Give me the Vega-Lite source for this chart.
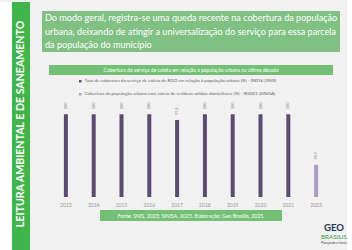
{
  "$schema": "https://vega.github.io/schema/vega-lite/v6.json",
  "background": "#f1f1f1",
  "padding": 0,
  "config": {
    "view": {"stroke": null},
    "font": "Lato",
    "locale": {"number": {"decimal": ",", "thousands": ".", "grouping": [3], "currency": ["R$", ""]}}
  },
  "spacing": 0,
  "bounds": "flush",
  "resolve": {"scale": {"color": "independent", "y": "independent", "x": "independent"}, "legend": {"color": "independent"}},
  "hconcat": [
    {
      "width": 12, "height": 250,
      "view": {"fill": "#ffffff", "stroke": null},
      "data": {"values": [{}]},
      "mark": {"type": "text"},
      "encoding": {"text": {"value": ""}}
    },
    {
      "width": 18, "height": 250,
      "view": {"fill": "#3fb54c", "stroke": null},
      "data": {"values": [{"t": "LEITURA AMBIENTAL E DE SANEAMENTO"}]},
      "mark": {"type": "text", "angle": 270, "color": "#ffffff", "fontSize": 10.6, "fontWeight": "bold", "baseline": "middle", "dx": 3},
      "encoding": {"text": {"field": "t"}}
    },
    {
      "width": 12, "height": 250,
      "data": {"values": [{}]},
      "mark": {"type": "text"},
      "encoding": {"text": {"value": ""}}
    },
    {
      "spacing": 0,
      "bounds": "flush",
      "center": true,
      "resolve": {"scale": {"color": "independent", "y": "independent", "x": "independent"}, "legend": {"color": "independent"}},
      "vconcat": [
        {
          "width": 1, "height": 9,
          "data": {"values": [{}]},
          "mark": {"type": "text"},
          "encoding": {"text": {"value": ""}}
        },
        {
          "width": 298, "height": 41,
          "view": {"fill": "#80c183", "stroke": null},
          "data": {"values": [
            {"linha": 1, "t": "Do modo geral, registra-se uma queda recente na cobertura da população"},
            {"linha": 2, "t": "urbana, deixando de atingir a universalização do serviço para essa parcela"},
            {"linha": 3, "t": "da população do município"}
          ]},
          "mark": {"type": "text", "align": "left", "baseline": "middle", "color": "#ffffff", "fontSize": 9.1},
          "encoding": {
            "x": {"value": 3},
            "y": {"field": "linha", "type": "ordinal", "axis": null},
            "text": {"field": "t"}
          }
        },
        {
          "width": 1, "height": 13,
          "data": {"values": [{}]},
          "mark": {"type": "text"},
          "encoding": {"text": {"value": ""}}
        },
        {
          "width": 284, "height": 10,
          "view": {"fill": "#72bf75", "stroke": null},
          "data": {"values": [{"t": "Cobertura do serviço de coleta em relação à população urbana na última década"}]},
          "mark": {"type": "text", "color": "#ffffff", "fontSize": 5, "baseline": "middle"},
          "encoding": {"text": {"field": "t"}}
        },
        {
          "width": 1, "height": 31,
          "data": {"values": [{}]},
          "mark": {"type": "text"},
          "encoding": {"text": {"value": ""}}
        },
        {
          "width": 278, "height": 91,
          "data": {"values": [
            {"ano": "2013", "serie": "Taxa de cobertura do serviço de coleta de RDO em relação à população urbana (%) - IN016 (SNIS)", "valor": 100},
            {"ano": "2014", "serie": "Taxa de cobertura do serviço de coleta de RDO em relação à população urbana (%) - IN016 (SNIS)", "valor": 100},
            {"ano": "2015", "serie": "Taxa de cobertura do serviço de coleta de RDO em relação à população urbana (%) - IN016 (SNIS)", "valor": 100},
            {"ano": "2016", "serie": "Taxa de cobertura do serviço de coleta de RDO em relação à população urbana (%) - IN016 (SNIS)", "valor": 100},
            {"ano": "2017", "serie": "Taxa de cobertura do serviço de coleta de RDO em relação à população urbana (%) - IN016 (SNIS)", "valor": 93.1},
            {"ano": "2018", "serie": "Taxa de cobertura do serviço de coleta de RDO em relação à população urbana (%) - IN016 (SNIS)", "valor": 100},
            {"ano": "2019", "serie": "Taxa de cobertura do serviço de coleta de RDO em relação à população urbana (%) - IN016 (SNIS)", "valor": 100},
            {"ano": "2020", "serie": "Taxa de cobertura do serviço de coleta de RDO em relação à população urbana (%) - IN016 (SNIS)", "valor": 100},
            {"ano": "2021", "serie": "Taxa de cobertura do serviço de coleta de RDO em relação à população urbana (%) - IN016 (SNIS)", "valor": 100},
            {"ano": "2022", "serie": "Taxa de cobertura do serviço de coleta de RDO em relação à população urbana (%) - IN016 (SNIS)", "valor": null},
            {"ano": "2023", "serie": "Cobertura da população urbana com coleta de resíduos sólidos domiciliares (%) - IRS001 (SINISA)", "valor": 38.9}
          ]},
          "encoding": {
            "x": {
              "field": "ano", "type": "ordinal",
              "scale": {"paddingInner": 0, "paddingOuter": 0},
              "axis": {"title": null, "labelAngle": 0, "domain": false, "ticks": false, "labelFontSize": 5, "labelColor": "#9a9a9a", "labelPadding": 5}
            },
            "y": {"field": "valor", "type": "quantitative", "scale": {"domain": [0, 110]}, "axis": null}
          },
          "layer": [
            {
              "mark": {"type": "bar", "width": 4},
              "encoding": {
                "color": {
                  "field": "serie", "type": "nominal",
                  "scale": {
                    "domain": [
                      "Taxa de cobertura do serviço de coleta de RDO em relação à população urbana (%) - IN016 (SNIS)",
                      "Cobertura da população urbana com coleta de resíduos sólidos domiciliares (%) - IRS001 (SINISA)"
                    ],
                    "range": ["#5b4b6f", "#a99dc6"]
                  },
                  "legend": {
                    "orient": "none", "legendX": 26, "legendY": -27, "direction": "vertical",
                    "title": null, "labelFontSize": 4.5, "labelColor": "#666666", "labelLimit": 0,
                    "symbolType": "square", "symbolSize": 6, "rowPadding": 8, "labelOffset": 2
                  }
                }
              }
            },
            {
              "mark": {"type": "text", "angle": 270, "align": "left", "baseline": "middle", "dx": 5, "fontSize": 4, "color": "#8a8a8a"},
              "encoding": {"text": {"field": "valor", "type": "quantitative", "format": ".2~f"}}
            }
          ]
        },
        {
          "width": 1, "height": 13,
          "data": {"values": [{}]},
          "mark": {"type": "text"},
          "encoding": {"text": {"value": ""}}
        },
        {
          "width": 182, "height": 11,
          "view": {"fill": "#72bf75", "stroke": null},
          "layer": [
            {
              "data": {"values": [{"t": "Fonte: SNIS, 2023; SINISA, 2025. Elaboração: Geo Brasilis, 2025."}]},
              "mark": {"type": "text", "color": "#ffffff", "fontSize": 5.2, "baseline": "middle"},
              "encoding": {"text": {"field": "t"}}
            },
            {
              "data": {"values": [{"t": "GEO"}]},
              "mark": {"type": "text", "align": "left", "baseline": "middle", "fontWeight": "bold", "fontSize": 9.5, "color": "#1d3557"},
              "encoding": {"text": {"field": "t"}, "x": {"value": 224}, "y": {"value": 18}}
            },
            {
              "data": {"values": [{"t": "BRASILIS"}]},
              "mark": {"type": "text", "align": "left", "baseline": "middle", "fontSize": 6.3, "color": "#3b9a4a"},
              "encoding": {"text": {"field": "t"}, "x": {"value": 221}, "y": {"value": 27}}
            },
            {
              "data": {"values": [{"t": "Planejando o futuro"}]},
              "mark": {"type": "text", "align": "left", "baseline": "middle", "fontSize": 3, "color": "#444444"},
              "encoding": {"text": {"field": "t"}, "x": {"value": 221}, "y": {"value": 33}}
            }
          ]
        }
      ]
    }
  ]
}
